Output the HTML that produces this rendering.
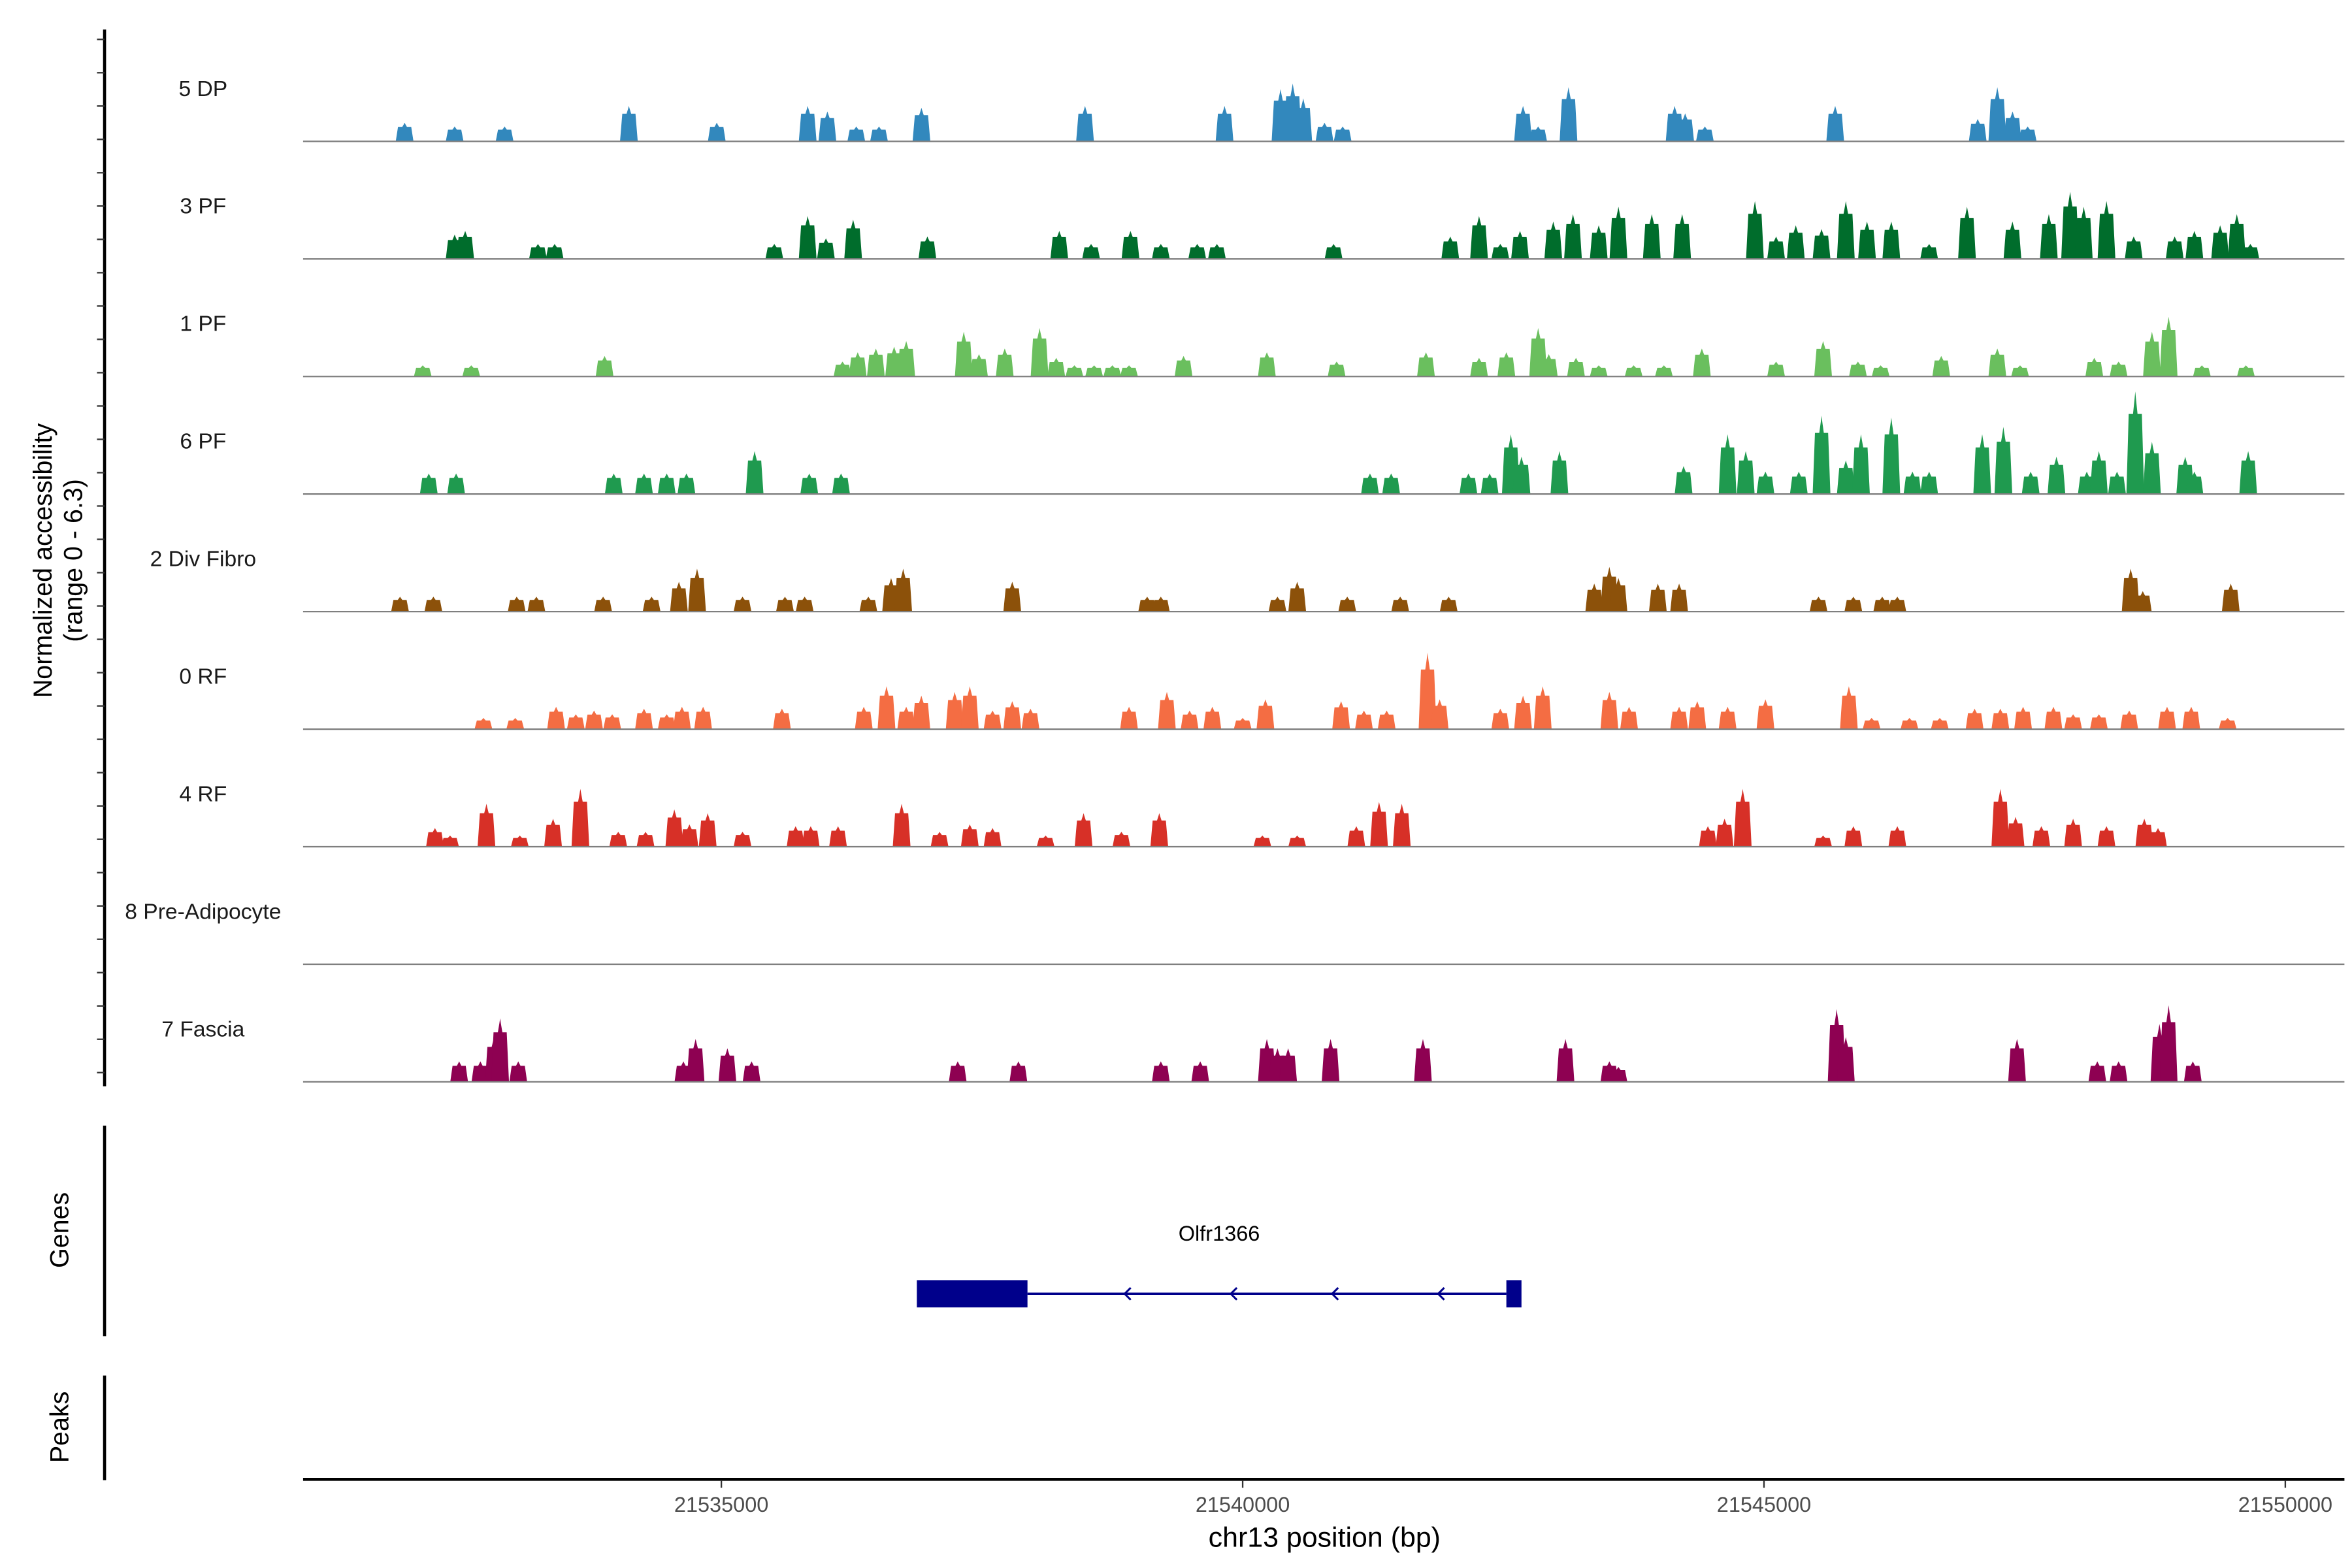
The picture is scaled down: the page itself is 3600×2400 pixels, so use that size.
<!DOCTYPE html>
<html><head><meta charset="utf-8"><style>
html,body{margin:0;padding:0;background:#fff;}
svg{display:block;font-family:"Liberation Sans",Arial,sans-serif;}
</style></head><body>
<svg id="chart" width="3600" height="2400" viewBox="0 0 1552 1035" preserveAspectRatio="none" xmlns="http://www.w3.org/2000/svg">
<rect x="0" y="0" width="1552" height="1035" fill="#fff"/>
<g id="tracks"></g>
<g id="axes"></g>
</svg>
<script>
const trackNames = ["5 DP","3 PF","1 PF","6 PF","2 Div Fibro","0 RF","4 RF","8 Pre-Adipocyte","7 Fascia"];
const trackColors = ["#3288bd","#006d2c","#6abf5e","#1f9a4f","#8c510a","#f46d43","#d73027","#1a9850","#8e0152"];
const pos5DP = [21531962,21532442,21532921,21534113,21534956,21535828,21536017,21536294,21536512,21536919,21538488,21539826,21540363,21540480,21540581,21540785,21540959,21542689,21542834,21543125,21544143,21544244,21544433,21545683,21547050,21547238,21547384,21547529];
const val5DP = [1.0,0.8,0.8,1.9,1.0,1.9,1.6,0.8,0.8,1.8,1.9,1.9,2.8,3.1,2.3,1.0,0.8,1.9,0.8,2.9,1.9,1.5,0.8,1.9,1.2,2.9,1.6,0.8];
const pos3PF = [21532442,21532543,21533241,21533401,21535508,21535828,21536003,21536264,21536976,21538241,21538546,21538924,21539215,21539564,21539753,21540872,21541991,21542267,21542471,21542660,21542979,21543168,21543415,21543604,21543924,21544215,21544913,21545116,21545305,21545552,21545785,21545988,21546221,21546584,21546947,21547383,21547732,21547936,21548067,21548285,21548546,21548939,21549128,21549375,21549535,21549665];
const val3PF = [1.3,1.5,0.8,0.8,0.8,2.3,1.1,2.1,1.2,1.5,0.8,1.5,0.8,0.8,0.8,0.8,1.2,2.3,0.8,1.5,2.0,2.4,1.8,2.8,2.4,2.4,3.1,1.2,1.8,1.6,3.1,2.0,2.0,0.8,2.8,2.0,2.4,3.6,2.8,3.1,1.2,1.2,1.5,1.8,2.4,0.8];
const pos1PF = [21532136,21532601,21533880,21536162,21536308,21536482,21536657,21536773,21537325,21537471,21537718,21538052,21538212,21538386,21538575,21538750,21538910,21539433,21540232,21540901,21541758,21542267,21542529,21542834,21542936,21543197,21543415,21543750,21544040,21544404,21545116,21545567,21545901,21546119,21546700,21547238,21547456,21548168,21548401,21548721,21548881,21549200,21549622];
const val1PF = [0.6,0.6,1.1,0.8,1.3,1.5,1.6,1.9,2.4,1.2,1.5,2.6,1.0,0.6,0.6,0.6,0.6,1.1,1.3,0.8,1.3,1.0,1.3,2.6,1.2,1.0,0.6,0.6,0.6,1.5,0.8,1.9,0.8,0.6,1.1,1.5,0.6,1.0,0.8,2.4,3.2,0.6,0.6];
const pos6PF = [21532194,21532456,21533968,21534258,21534476,21534665,21535319,21535843,21536148,21541221,21541424,21542165,21542369,21542572,21542674,21543038,21544229,21544651,21544825,21545014,21545334,21545552,21545785,21545930,21546221,21546424,21546584,21547093,21547296,21547558,21547805,21548096,21548212,21548386,21548561,21548721,21549040,21549128,21549644];
const val6PF = [1.1,1.1,1.1,1.1,1.1,1.1,2.3,1.1,1.1,1.1,1.1,1.1,1.1,3.2,2.0,2.3,1.5,3.2,2.3,1.2,1.2,4.2,1.8,3.2,4.1,1.2,1.2,3.2,3.6,1.2,2.0,1.2,2.3,1.2,5.5,2.8,2.0,1.2,2.3];
const posDiv = [21531918,21532238,21533037,21533226,21533866,21534331,21534593,21534767,21535203,21535610,21535799,21536410,21536628,21536744,21537790,21539084,21539215,21540334,21540523,21541003,21541511,21541976,21543372,21543517,21543604,21543982,21544186,21545523,21545857,21546134,21546279,21548517,21548633,21549477];
const valDiv = [0.8,0.8,0.8,0.8,0.8,0.8,1.6,2.3,0.8,0.8,0.8,0.8,1.8,2.3,1.6,0.8,0.8,0.8,1.6,0.8,0.8,0.8,1.5,2.4,1.8,1.5,1.5,0.8,0.8,0.8,0.8,2.3,1.1,1.5];
const pos0RF = [21532718,21533023,21533415,21533604,21533779,21533953,21534258,21534476,21534622,21534825,21535581,21536366,21536584,21536773,21536918,21537238,21537383,21537601,21537790,21537965,21538910,21539273,21539491,21539709,21540000,21540218,21540944,21541163,21541381,21541773,21541889,21542471,21542689,21542878,21543517,21543706,21544186,21544360,21544651,21545014,21545814,21546032,21546395,21546686,21547020,21547267,21547485,21547776,21547965,21548212,21548503,21548866,21549098,21549447];
const val0RF = [0.6,0.6,1.2,0.8,1.0,0.8,1.1,0.8,1.2,1.2,1.1,1.2,2.3,1.2,1.8,2.0,2.3,1.0,1.5,1.1,1.2,2.0,1.0,1.2,0.6,1.6,1.5,1.0,1.0,4.1,1.6,1.1,1.8,2.3,2.0,1.2,1.2,1.5,1.2,1.6,2.3,0.6,0.6,0.6,1.1,1.1,1.2,1.2,0.8,0.8,1.0,1.2,1.2,0.6];
const pos4RF = [21532253,21532398,21532747,21533067,21533386,21533648,21534011,21534273,21534549,21534694,21534869,21535203,21535712,21535857,21536119,21536729,21537093,21537383,21537601,21538110,21538474,21538837,21539200,21540189,21540523,21541090,21541308,21541526,21544462,21544622,21544796,21545567,21545857,21546279,21547267,21547413,21547660,21547965,21548285,21548648,21548779];
const val4RF = [1.0,0.6,2.3,0.6,1.5,3.1,0.8,0.8,2.0,1.2,1.8,0.8,1.1,1.1,1.1,2.3,0.8,1.2,1.0,0.6,1.8,0.8,1.8,0.6,0.6,1.1,2.4,2.3,1.1,1.5,3.1,0.6,1.1,1.1,3.1,1.6,1.1,1.5,1.1,1.5,1.0];
const posPre = [];
const valPre = [];
const posFas = [21532485,21532689,21532819,21532878,21533052,21534636,21534753,21535058,21535290,21537267,21537849,21539215,21539593,21540232,21540334,21540436,21540843,21541729,21543096,21543517,21543604,21545697,21545785,21547427,21548197,21548401,21548793,21548881,21549113];
const valFas = [1.1,1.1,2.4,3.4,1.1,1.1,2.3,1.8,1.1,1.1,1.1,1.1,1.1,2.3,1.8,1.8,2.3,2.3,2.3,1.1,0.8,3.9,2.4,2.3,1.1,1.1,3.1,4.1,1.1];
const trackPositions = [pos5DP,pos3PF,pos1PF,pos6PF,posDiv,pos0RF,pos4RF,posPre,posFas];
const trackValues = [val5DP,val3PF,val1PF,val6PF,valDiv,val0RF,val4RF,valPre,valFas];
const xTicks = [21535000,21540000,21545000,21550000];
const geneName = "Olfr1366";
const geneStart = 21536875, geneCdsEnd = 21537936, geneExon2Start = 21542529, geneEnd = 21542674;
const arrowPositions = [21538868,21539886,21540858,21541875];

const NS = "http://www.w3.org/2000/svg";
const X0 = 200, X1 = 1547;
const BP_PER_PX = 14.535;
function xScale(bp){ return 476 + (bp - 21535000)/BP_PER_PX; }
const YMAX = 6.3, TRACK_H = 77.6, BASE0 = 93.3;
function baseY(i){ return BASE0 + i*TRACK_H; }
function yScale(i, v){ return baseY(i) - v/YMAX*TRACK_H; }
function mk(tag, attrs, parent){ const e = document.createElementNS(NS, tag); for (const k in attrs) e.setAttribute(k, attrs[k]); parent.appendChild(e); return e; }

const tracks = document.getElementById('tracks');
const axes = document.getElementById('axes');
const HALF_BP = 85;
trackNames.forEach((name, i) => {
  const g = mk('g', {}, tracks);
  
  
  const by = baseY(i);
  trackPositions[i].forEach((p, j) => {
    const v = trackValues[i][j];
    const xa = xScale(p - HALF_BP), xb = xScale(p + HALF_BP), xc = xScale(p);
    const yt = yScale(i, v), h = by - yt;
    const pts = [[xa,by],[xa+1.5,by-h*0.78],[xc-1.5,by-h*0.78],[xc-0.5,by-h*0.92],[xc,yt],[xc+0.5,by-h*0.92],[xc+1.5,by-h*0.78],[xb-1.5,by-h*0.78],[xb,by]];
    const poly = mk('polygon', {points: pts.map(q=>q[0].toFixed(2)+','+q[1].toFixed(2)).join(' '), fill: trackColors[i]}, g);
    
    
  });
  const bl = mk('line', {x1:X0, x2:X1, y1:by, y2:by, stroke:'#7f7f7f', 'stroke-width':1}, g);
  
  
  const lab = mk('text', {x:134, y:by-30, 'text-anchor':'middle', 'font-size':14.5, fill:'#1a1a1a'}, g);
  lab.textContent = name;
  
  
});

const ya = mk('line', {x1:69, x2:69, y1:19.5, y2:717, stroke:'#000', 'stroke-width':2}, axes);


for (let y = 26; y < 716; y += 22) {
  const t = mk('line', {x1:64, x2:69, y1:y, y2:y, stroke:'#333', 'stroke-width':1}, axes);
  
  
}
const yt1 = mk('text', {x:0, y:0, transform:'translate(34,370) rotate(-90)', 'text-anchor':'middle', 'font-size':17, fill:'#000'}, axes);
yt1.textContent = 'Normalized accessibility';


const yt2 = mk('text', {x:0, y:0, transform:'translate(54,370) rotate(-90)', 'text-anchor':'middle', 'font-size':17, fill:'#000'}, axes);
yt2.textContent = '(range 0 - 6.3)';



const ga = mk('line', {x1:69, x2:69, y1:743, y2:882, stroke:'#000', 'stroke-width':2}, axes);


const gt = mk('text', {x:0, y:0, transform:'translate(45,812) rotate(-90)', 'text-anchor':'middle', 'font-size':17, fill:'#000'}, axes);
gt.textContent = 'Genes';


const gg = mk('g', {}, axes);


mk('line', {x1:xScale(geneCdsEnd), x2:xScale(geneExon2Start), y1:854, y2:854, stroke:'#00008b', 'stroke-width':1.5}, gg);
mk('rect', {x:xScale(geneStart), y:845, width:xScale(geneCdsEnd)-xScale(geneStart), height:18, fill:'#00008b'}, gg);
mk('rect', {x:xScale(geneExon2Start), y:845, width:xScale(geneEnd)-xScale(geneExon2Start), height:18, fill:'#00008b'}, gg);
arrowPositions.forEach(p => {
  const x = xScale(p);
  mk('polyline', {points:`${x+4},850 ${x},854 ${x+4},858`, fill:'none', stroke:'#00008b', 'stroke-width':1.3}, gg);
});
const gl = mk('text', {x:xScale((geneStart+geneEnd)/2), y:819, 'text-anchor':'middle', 'font-size':14, fill:'#000'}, gg);
gl.textContent = geneName;



const pa = mk('line', {x1:69, x2:69, y1:908, y2:977, stroke:'#000', 'stroke-width':2}, axes);


const pt = mk('text', {x:0, y:0, transform:'translate(45,942) rotate(-90)', 'text-anchor':'middle', 'font-size':17, fill:'#000'}, axes);
pt.textContent = 'Peaks';



const xa = mk('line', {x1:X0, x2:X1, y1:976.5, y2:976.5, stroke:'#000', 'stroke-width':2}, axes);


xTicks.forEach(v => {
  const x = xScale(v);
  const t = mk('line', {x1:x, x2:x, y1:977, y2:982, stroke:'#333', 'stroke-width':1}, axes);
  
  
  const l = mk('text', {x:x, y:998, 'text-anchor':'middle', 'font-size':14, fill:'#4d4d4d'}, axes);
  l.textContent = String(v);
  
  
});
const xt = mk('text', {x:874, y:1021, 'text-anchor':'middle', 'font-size':18.5, fill:'#000'}, axes);
xt.textContent = 'chr13 position (bp)';


</script>
</body></html>
